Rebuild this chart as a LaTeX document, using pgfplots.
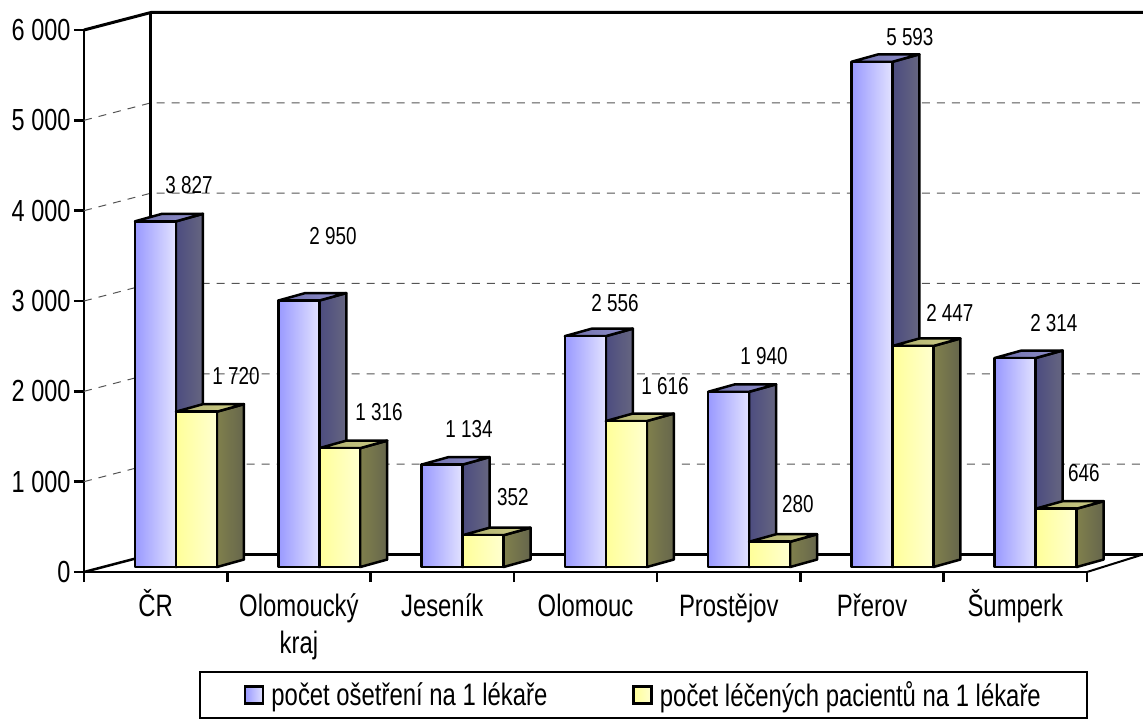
\documentclass[border=0pt]{standalone}
\usepackage{pgfplots}
\usepackage{pgfplotstable}
\usepackage{fontspec}
\setmainfont[FakeStretch=0.77]{Liberation Sans}
\pgfplotsset{compat=1.18}
\definecolor{gridc}{HTML}{555555}
\pgfplotstableread{
idx a b lax lay lbx lby
0 3827 1720 189 185 236 376
1 2950 1316 333 236 379 412
2 1134 352 469 429 513 497
3 2556 1616 615 303 665 386
4 1940 280 764 356 798 504
5 5593 2447 910 37 950 313
6 2314 646 1054 323 1084 473
}\chartdata
% bar geometry, in axis units
\def\bw{0.286}\def\ddx{0.1884}\def\ddy{83}\def\bbase{55}
\def\xs{\rule[-8pt]{0pt}{40pt}}
\tikzset{
 edge/.style={draw=black,line width=2.5pt,line join=round},
 bfront/.style={edge,left color={rgb,255:red,153;green,153;blue,255},right color={rgb,255:red,226;green,226;blue,255}},
 bside/.style={edge,left color={rgb,255:red,76;green,76;blue,128},right color={rgb,255:red,102;green,102;blue,128}},
 btop/.style={edge,left color={rgb,255:red,110;green,110;blue,170},right color={rgb,255:red,145;green,145;blue,205}},
 yfront/.style={edge,left color={rgb,255:red,255;green,255;blue,153},right color={rgb,255:red,255;green,255;blue,208}},
 yside/.style={edge,left color={rgb,255:red,128;green,128;blue,76},right color={rgb,255:red,102;green,102;blue,76}},
 ytop/.style={edge,left color={rgb,255:red,175;green,175;blue,110},right color={rgb,255:red,205;green,205;blue,135}},
 dlabel/.style={font=\fontsize{24.5}{28}\selectfont,inner sep=0pt,anchor=center},
 gridl/.style={draw=gridc,line width=1pt,dash pattern=on 8pt off 7pt},
 walll/.style={draw=black,line width=3pt},
}
\newcommand{\drawbar}[5]{% x, value, side, top, front
 \pgfmathsetmacro\xa{#1}\pgfmathsetmacro\xb{#1+\bw}
 \pgfmathsetmacro\xc{\xb+\ddx}\pgfmathsetmacro\xd{\xa+\ddx}
 \pgfmathsetmacro\yt{#2+\bbase}\pgfmathsetmacro\ybk{\bbase+\ddy}\pgfmathsetmacro\ytk{#2+\bbase+\ddy}
 \edef\temp{%
  \noexpand\addplot[forget plot,#3] coordinates {(\xb,\bbase)(\xc,\ybk)(\xc,\ytk)(\xb,\yt)} --cycle;
  \noexpand\addplot[forget plot,#4] coordinates {(\xa,\yt)(\xb,\yt)(\xc,\ytk)(\xd,\ytk)} --cycle;
  \noexpand\addplot[forget plot,#5] coordinates {(\xa,\bbase)(\xb,\bbase)(\xb,\yt)(\xa,\yt)} --cycle;
 }\temp
}
\newcommand{\vlabel}[3]{% px x, px y, value
 \pgfmathsetmacro\lx{(#1-84)/143.3}\pgfmathsetmacro\ly{(572-#2)/0.09033}
 \edef\temp{\noexpand\node[dlabel] at (axis cs:\lx,\ly) {\noexpand\pgfmathprintnumber[1000 sep={\noexpand\space},assume math mode=true]{#3}};}\temp
}
\begin{document}
\begin{tikzpicture}
\path[use as bounding box] (-84pt,-146pt) rectangle (1059pt,572pt);
\begin{axis}[
 at={(0pt,0pt)},anchor=origin,
 scale only axis,width=1003pt,height=542pt,
 xmin=0,xmax=7,ymin=0,ymax=6000,
 clip=false,
 axis x line*=bottom,axis y line*=left,
 axis line style={line width=2.5pt,-},
 every tick/.style={black,line width=2.5pt},
 major tick length=10pt,
 tick align=outside,
 xtick={0,...,7},
 x tick label as interval,
 xticklabels={\xs ČR,{\xs Olomoucký\\kraj},\xs Jeseník,\xs Olomouc,\xs Prostějov,\xs Přerov,\xs Šumperk},
 xticklabel style={align=center,font=\fontsize{31}{37}\selectfont,anchor=north,yshift=0pt,inner sep=2pt},
 ytick={0,1000,2000,3000,4000,5000,6000},
 yticklabels={0,1 000,2 000,3 000,4 000,5 000,6 000},
 yticklabel style={font=\fontsize{30.5}{32}\selectfont,xshift=0pt},
 legend columns=2,
 legend cell align=left,
 legend style={at={(axis cs:1.115,-1360)},anchor=west,draw=none,fill=none,inner sep=0pt,
   font=\fontsize{31}{35}\selectfont,
   /tikz/every even column/.append style={column sep=83pt}},
]
% walls, floor and grid
\pgfplotsinvokeforeach{1000,2000,3000,4000,5000}{
 \addplot[forget plot,gridl] coordinates {(0,#1)(0.4675,#1+194)(7.39,#1+194)};
}
\addplot[forget plot,walll] coordinates {(0,6000)(0.4675,6194)(7.39,6194)};
\addplot[forget plot,walll] coordinates {(0.4675,6194)(0.4675,194)(7.39,194)};
\addplot[forget plot,walll,line width=2.5pt] coordinates {(0,0)(0.4675,194)};
\addplot[forget plot,walll,line width=2pt] coordinates {(7,0)(7.39,194)};
% bars
\pgfplotsinvokeforeach{0,...,6}{
 \pgfplotstablegetelem{#1}{a}\of\chartdata\let\va\pgfplotsretval
 \pgfplotstablegetelem{#1}{b}\of\chartdata\let\vb\pgfplotsretval
 \pgfmathsetmacro\xone{#1+0.356}\pgfmathsetmacro\xtwo{#1+0.356+\bw}
 \let\xonesaved\xone\let\xtwosaved\xtwo\let\vasaved\va\let\vbsaved\vb
 \drawbar{\xonesaved}{\vasaved}{bside}{btop}{bfront}
 \drawbar{\xtwosaved}{\vbsaved}{yside}{ytop}{yfront}
 \pgfplotstablegetelem{#1}{lax}\of\chartdata\let\pa\pgfplotsretval
 \pgfplotstablegetelem{#1}{lay}\of\chartdata\let\pb\pgfplotsretval
 \vlabel{\pa}{\pb}{\vasaved}
 \pgfplotstablegetelem{#1}{lbx}\of\chartdata\let\pa\pgfplotsretval
 \pgfplotstablegetelem{#1}{lby}\of\chartdata\let\pb\pgfplotsretval
 \vlabel{\pa}{\pb}{\vbsaved}
}
% legend box
\addplot[forget plot,draw=black,line width=2.5pt] coordinates {(0.8095,-1108)(6.9990,-1108)(6.9990,-1620)(0.8095,-1620)} --cycle;
\addlegendimage{legend image code/.code={\draw[draw=black,line width=2.5pt,left color={rgb,255:red,153;green,153;blue,255},right color={rgb,255:red,226;green,226;blue,255}] (0pt,-8.5pt) rectangle (18pt,8.5pt);}}
\addlegendentry{\hspace{5pt}počet ošetření na 1 lékaře}
\addlegendimage{legend image code/.code={\draw[draw=black,line width=2.5pt,left color={rgb,255:red,255;green,255;blue,153},right color={rgb,255:red,255;green,255;blue,208}] (0pt,-8.5pt) rectangle (18pt,8.5pt);}}
\addlegendentry{\hspace{5pt}počet léčených pacientů na 1 lékaře}
\end{axis}
\end{tikzpicture}
\end{document}
